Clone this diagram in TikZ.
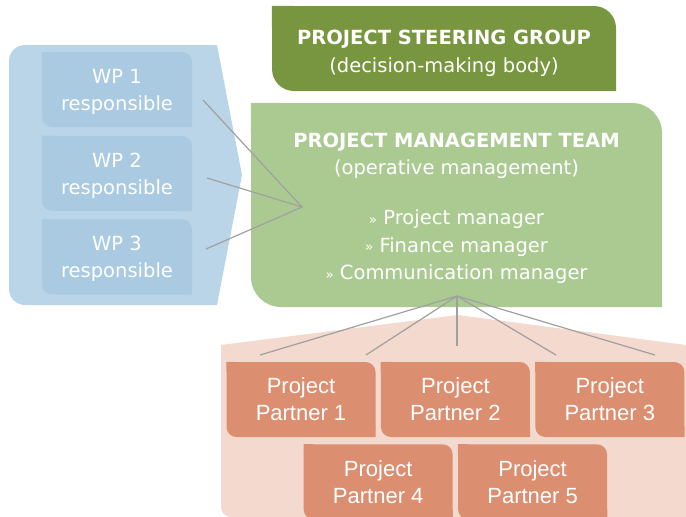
\documentclass[tikz,border=0pt]{standalone}
\usepackage{fontspec}
\setmainfont{DejaVu Sans}
\newfontfamily\partnerfont{Liberation Sans}
\usetikzlibrary{positioning}

\definecolor{steergreen}{HTML}{78953F}
\definecolor{teamgreen}{HTML}{ABCA92}
\definecolor{wpback}{HTML}{BAD5E8}
\definecolor{wpfill}{HTML}{A9CAE0}
\definecolor{ppback}{HTML}{F3D9CE}
\definecolor{ppfill}{HTML}{DC8E70}
\definecolor{linkgrey}{HTML}{A0A0A0}

\newcommand{\pmbullet}{{\fontsize{13.5}{13.5}\selectfont\raisebox{0.5pt}{»}}\ }
\newcommand{\toppad}[1]{\rule{0pt}{#1}}

\tikzset{
  box/.style={inner sep=0pt, text=white, align=center},
  wpbox/.style={box, fill=wpfill, rounded corners=10pt, minimum width=150pt, minimum height=75pt,
    font=\fontsize{19.5}{27}\selectfont},
  partner/.style={box, fill=ppfill, rounded corners=10pt, minimum width=149pt, minimum height=75pt,
    font=\partnerfont\fontsize{22}{27}\selectfont},
  link/.style={draw=linkgrey, line width=1.2pt},
}

\begin{document}
\begin{tikzpicture}[x=1pt, y=-1pt]
        \useasboundingbox (0,0) rectangle (686,517);

        % WP background arrow
        \fill[wpback] (25,45) -- (217,45) -- (242,175) -- (217,305) -- (25,305)
            arc[start angle=90, end angle=180, radius=16] -- (9,61)
            arc[start angle=180, end angle=270, radius=16] -- cycle;

        % Partner background
        \fill[ppback] (221,345) -- (458,315) -- (686,345) -- (686,517) -- (231,517)
            arc[start angle=90, end angle=180, radius=10] -- cycle;

        % Steering group
        \node[box, fill=steergreen, rounded corners=22pt, minimum width=344pt, minimum height=85pt,
            font=\fontsize{19.5}{28}\selectfont]
            (psg) at (444,48.5) {\toppad{23.6pt}\textbf{PROJECT STEERING GROUP}\\(decision-making body)};

        % Management team
        \node[box, fill=teamgreen, rounded corners=30pt, minimum width=411pt, minimum height=204pt,
            font=\fontsize{19.5}{27.5}\selectfont]
            (pmt) at (456.5,205) {\toppad{21pt}\textbf{PROJECT MANAGEMENT TEAM}\\(operative management)\\[22.5pt]
            \pmbullet Project manager\\ \pmbullet Finance manager\\ \pmbullet Communication manager};

        % WP responsibles
        \node[wpbox] (wp1) at (117,89.5) {\toppad{18.6pt}WP 1\\responsible};
        \node[wpbox, below=8.5pt of wp1] (wp2) {\toppad{18.6pt}WP 2\\responsible};
        \node[wpbox, below=8pt of wp2] (wp3) {\toppad{18.6pt}WP 3\\responsible};

        % Project partners
        \node[partner] (pp1) at (301,399.5) {Project\\Partner 1};
        \node[partner, right=5pt of pp1] (pp2) {Project\\Partner 2};
        \node[partner, right=5pt of pp2] (pp3) {Project\\Partner 3};
        \node[partner, below=7pt of pp1.south east, xshift=2.5pt] (pp4) {Project\\Partner 4};
        \node[partner, right=5pt of pp4] (pp5) {Project\\Partner 5};

        % square corners
        \fill[steergreen] (psg.north west) rectangle ++(22,22) (psg.south east) rectangle ++(-22,-22);
        \fill[teamgreen] (pmt.north west) rectangle ++(30,30) (pmt.south east) rectangle ++(-30,-30);
        \foreach \n in {wp1,wp2,wp3}
            \fill[wpfill] (\n.north west) rectangle ++(10,10) (\n.south east) rectangle ++(-10,-10);
        \foreach \n in {pp1,pp2,pp3,pp4,pp5}
            \fill[ppfill] (\n.north west) rectangle ++(10,10) (\n.south east) rectangle ++(-10,-10);

        % Connections
        \coordinate (wphub) at (302,207);
        \coordinate (w1) at (203,100);
        \coordinate (w2) at (207,178);
        \coordinate (w3) at (206,249);
        \draw[link] (w1) -- (wphub) -- (w3);
        \draw[link] (w2) -- (wphub);

        \coordinate (pphub) at (457,296);
        \coordinate (e1) at (260,355);
        \coordinate (e2) at (366,355);
        \coordinate (e3) at (457,346);
        \coordinate (e4) at (556,355);
        \coordinate (e5) at (655,355);
        \foreach \e in {e1,e2,e3,e4,e5}
            \draw[link] (pphub) -- (\e);
    \end{tikzpicture}
\end{document}
